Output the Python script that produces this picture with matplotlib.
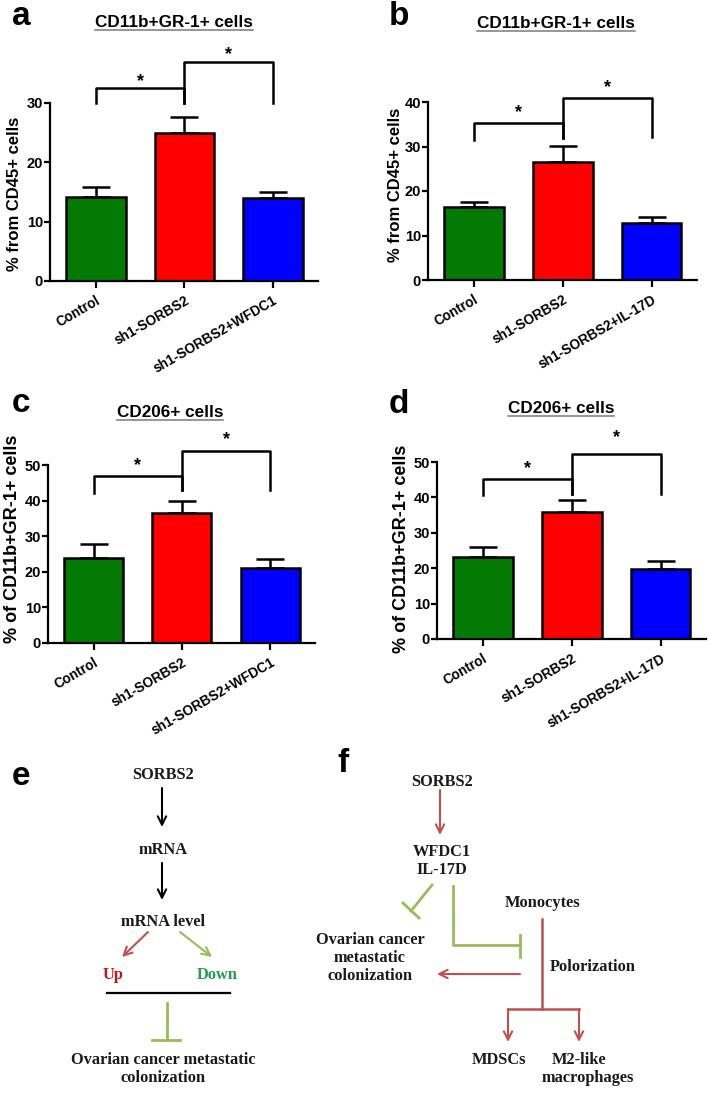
import matplotlib.pyplot as plt

# ---- data ----
groups_wfdc1 = ['Control', 'sh1-SORBS2', 'sh1-SORBS2+WFDC1']
groups_il17d = ['Control', 'sh1-SORBS2', 'sh1-SORBS2+IL-17D']

mean_a = [14.2, 24.9, 14.0]
err_a = [1.7, 2.8, 1.0]
mean_b = [16.3, 26.6, 12.7]
err_b = [1.3, 3.6, 1.4]
mean_c = [24.0, 36.6, 21.0]
err_c = [3.7, 3.3, 2.5]
mean_d = [23.3, 35.8, 19.7]
err_d = [2.6, 3.4, 2.4]

bar_colors = ['#037a03', '#ff0000', '#0000ff']

W, H = 708, 1097
plt.rcParams['font.family'] = ['Liberation Sans', 'DejaVu Sans']
plt.rcParams['font.weight'] = 'bold'

fig = plt.figure(figsize=(W / 100, H / 100), dpi=100)

# overlay axes in pixel coordinates for letters, titles and diagrams
ov = fig.add_axes([0, 0, 1, 1])
ov.set_xlim(0, W)
ov.set_ylim(H, 0)
ov.axis('off')


def px_axes(l, t, r, b):
    return fig.add_axes([l / W, 1 - b / H, (r - l) / W, (b - t) / H])


def bar_panel(box, labels, means, errs, ytop, ylabel, ylab_fs, ylab_x, ylab_y, left_br, right_br, stars):
    l, t, r, b = box
    ax = px_axes(l, t, r, b)
    x = range(3)
    ax.bar(x, means, width=0.67, color=bar_colors, edgecolor='black', linewidth=1.8, zorder=2)
    ax.errorbar(x, means, yerr=[[0, 0, 0], errs], fmt='none', ecolor='black',
                elinewidth=1.8, capsize=10, capthick=1.8, zorder=3)
    ax.set_xlim(-0.52, 2.51)
    ax.set_ylim(0, ytop)
    ax.set_yticks(range(0, ytop + 1, 10))
    for s in ['top', 'right']:
        ax.spines[s].set_visible(False)
    for s in ['left', 'bottom']:
        ax.spines[s].set_linewidth(1.6)
    ax.tick_params(axis='y', length=4, width=1.6, labelsize=10.5, pad=1)
    ax.tick_params(axis='x', length=5, width=1.6, pad=4)
    ax.set_xticks(list(x))
    ax.set_xticklabels(labels, rotation=30, ha='right', va='top', rotation_mode='anchor',
                       fontsize=9.8, fontweight='bold')
    ax.set_ylabel(ylabel, fontsize=ylab_fs, fontweight='bold', va='center')
    ax.yaxis.set_label_coords((ylab_x - l) / (r - l), (b - ylab_y) / (b - t))
    # significance brackets
    b0, b1, top = left_br
    ax.plot([0, 0, 1, 1], [b0, top, top, b1], color='black', lw=1.8, clip_on=False)
    b0, b1, top = right_br
    ax.plot([1, 1, 2, 2], [b0, top, top, b1], color='black', lw=1.8, clip_on=False)
    ax.text(0.5, stars[0], '*', ha='center', va='center', fontsize=13, clip_on=False)
    ax.text(1.5, stars[1], '*', ha='center', va='center', fontsize=13, clip_on=False)
    return ax


bar_panel((50, 103, 318, 281), groups_wfdc1, mean_a, err_a, 30, '% from CD45+ cells', 12, 15, 194,
          (30, 30, 32.5), (30, 30, 36.9), (33.6, 38.2))
bar_panel((428, 102, 697, 280), groups_il17d, mean_b, err_b, 40, '% from CD45+ cells', 12, 396, 185,
          (31.5, 32, 35.3), (32, 32.2, 41.0), (37.6, 43.3))
bar_panel((48, 465, 315, 643), groups_wfdc1, mean_c, err_c, 50, '% of CD11b+GR-1+ cells', 13, 13, 539,
          (42.2, 43, 47.0), (43, 43, 54.0), (49.8, 57.0))
bar_panel((437, 462, 706, 639), groups_il17d, mean_d, err_d, 50, '% of CD11b+GR-1+ cells', 13, 402, 549,
          (40.6, 41.1, 45.3), (41.1, 41.1, 52.4), (48.2, 56.8))

# panel letters
for letter, lx, ly in [('a', 12, 25), ('b', 389, 25), ('c', 12, 412),
                       ('d', 389, 413), ('e', 12, 785), ('f', 337, 772)]:
    ov.text(lx, ly, letter, fontsize=24, fontweight='bold', ha='left', va='baseline')

# underlined titles
titles = [('CD11b+GR-1+ cells', 174, 27), ('CD11b+GR-1+ cells', 556, 28),
          ('CD206+ cells', 170, 417), ('CD206+ cells', 561, 413)]
title_artists = []
for txt, tx, ty in titles:
    title_artists.append((ov.text(tx, ty, txt, fontsize=12.3, fontweight='bold',
                                  ha='center', va='baseline'), ty))
fig.canvas.draw()
renderer = fig.canvas.get_renderer()
for art, ty in title_artists:
    bb = art.get_window_extent(renderer)
    ov.plot([bb.x0, bb.x1], [ty + 2.5, ty + 2.5], color='#7a7a7a', lw=1.1)

# ---- diagrams ----
red = '#c0504d'
green = '#9bbb59'
serif = ['Liberation Serif', 'DejaVu Serif']
fs = 11.8


def label(x, y, s, color='#1a1a1a'):
    ov.text(x, y, s, fontsize=fs, family=serif, fontweight='bold', color=color,
            ha='center', va='center')


def arrow(x0, y0, x1, y1, color):
    ov.annotate('', xy=(x1, y1), xytext=(x0, y0),
                arrowprops=dict(arrowstyle='->,head_length=0.6,head_width=0.3',
                                color=color, lw=1.5, shrinkA=0, shrinkB=0))


# panel e
label(163, 775, 'SORBS2')
arrow(162, 788, 162, 827, 'black')
label(163, 850, 'mRNA')
arrow(162, 863, 162, 900, 'black')
label(163, 922, 'mRNA level')
arrow(148, 932, 122, 957, red)
arrow(180, 932, 212, 957, green)
label(113, 975, 'Up', color='#c0171f')
label(217, 975, 'Down', color='#1f9e4c')
ov.plot([107, 230], [993, 993], color='black', lw=1.6)
ov.plot([167, 167], [1003, 1040], color=green, lw=2)
ov.plot([152, 180], [1040, 1040], color=green, lw=2)
label(163, 1060, 'Ovarian cancer metastatic')
label(163, 1078, 'colonization')

# panel f
label(442, 782, 'SORBS2')
arrow(440, 790, 440, 835, red)
label(442, 852, 'WFDC1')
label(442, 870, 'IL-17D')
ov.plot([432, 411], [885, 911], color=green, lw=2)
ov.plot([403, 419], [903, 918], color=green, lw=2)
ov.plot([453, 453, 520], [886, 945, 945], color=green, lw=2)
ov.plot([520, 520], [935, 957], color=green, lw=2)
label(543, 903, 'Monocytes')
ov.plot([542, 542], [919, 1009], color=red, lw=1.8)
arrow(520, 974, 437, 974, red)
label(593, 967, 'Polorization')
label(370, 940, 'Ovarian cancer')
label(370, 958, 'metastatic')
label(370, 976, 'colonization')
ov.plot([508, 579], [1009, 1009], color=red, lw=1.8)
arrow(508, 1009, 508, 1042, red)
arrow(579, 1009, 579, 1042, red)
label(499, 1060, 'MDSCs')
label(579, 1060, 'M2-like')
label(588, 1078, 'macrophages')

fig.savefig('out.png', dpi=100)
